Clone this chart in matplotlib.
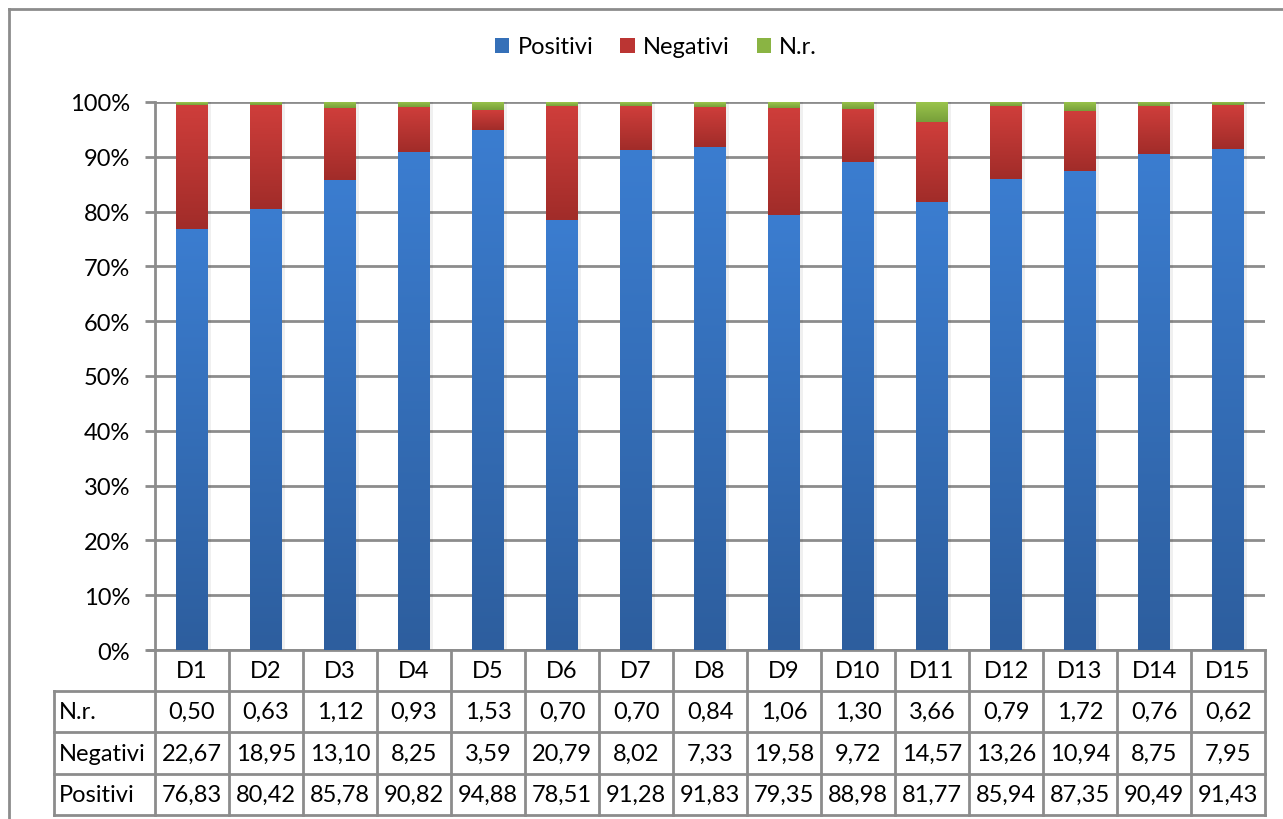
import numpy as np
import matplotlib
matplotlib.use("Agg")
import matplotlib.pyplot as plt
from matplotlib.colors import LinearSegmentedColormap
from matplotlib.patches import Patch
from matplotlib.lines import Line2D
import matplotlib.transforms as mtransforms

plt.rcParams['font.family'] = ['Lato', 'DejaVu Sans']

categories = ["D1", "D2", "D3", "D4", "D5", "D6", "D7", "D8", "D9", "D10",
              "D11", "D12", "D13", "D14", "D15"]
nr = [0.50, 0.63, 1.12, 0.93, 1.53, 0.70, 0.70, 0.84, 1.06, 1.30, 3.66, 0.79, 1.72, 0.76, 0.62]
negativi = [22.67, 18.95, 13.10, 8.25, 3.59, 20.79, 8.02, 7.33, 19.58, 9.72, 14.57, 13.26, 10.94, 8.75, 7.95]
positivi = [76.83, 80.42, 85.78, 90.82, 94.88, 78.51, 91.28, 91.83, 79.35, 88.98, 81.77, 85.94, 87.35, 90.49, 91.43]
series_names = ["Positivi", "Negativi", "N.r."]
table_rows = ["N.r.", "Negativi", "Positivi"]

# gradient (top, bottom) colours per series
grads = {
    "Positivi": ("#3b7dd0", "#2d5e9e"),
    "Negativi": ("#cf3e3b", "#a12c29"),
    "N.r.": ("#9cc64c", "#779f3a"),
}
legend_cols = {"Positivi": "#3570b8", "Negativi": "#bb3533", "N.r.": "#8ab443"}

W, H = 1283, 820
fig = plt.figure(figsize=(W / 100, H / 100), dpi=100)
L, R, T, B = 155, 1265, 103, 651
ax = fig.add_axes([L / W, 1 - B / H, (R - L) / W, (B - T) / H])

pos = np.array(positivi)
neg = np.array(negativi)
nrr = np.array(nr)
tot = pos + neg + nrr
vals = {"Positivi": pos / tot * 100, "Negativi": neg / tot * 100, "N.r.": nrr / tot * 100}

x = np.arange(len(categories))
bw = 0.43
bottom = np.zeros(len(categories))
grad = np.linspace(0, 1, 256).reshape(-1, 1)
for name in series_names:
    bars = ax.bar(x, vals[name], bw, bottom=bottom, color="none", zorder=3, linewidth=0)
    cmap = LinearSegmentedColormap.from_list(name, [grads[name][1], grads[name][0]])
    for b in bars:
        bx, by = b.get_x(), b.get_y()
        w, h = b.get_width(), b.get_height()
        # soft shadow
        ax.add_patch(plt.Rectangle((bx + w, by), 0.04, h, color="#000000", alpha=0.06,
                                   lw=0, zorder=2.5))
        ax.imshow(grad, extent=[bx, bx + w, by, by + h], origin="lower", aspect="auto",
                  cmap=cmap, zorder=3, interpolation="bilinear")
    bottom = bottom + vals[name]

fs = 17
ax.set_xlim(-0.5, len(categories) - 0.5)
ax.set_ylim(0, 100)
ax.set_yticks(np.arange(0, 101, 10))
ax.set_yticklabels([f"{v}%" for v in range(0, 101, 10)])
ax.set_xticks([])
gcol = "#8c8c8c"
ax.yaxis.grid(True, color=gcol, linewidth=2.0, zorder=1)
ax.set_axisbelow(True)
for s in ["top", "right"]:
    ax.spines[s].set_visible(False)
ax.spines["left"].set_color(gcol)
ax.spines["left"].set_linewidth(2.0)
ax.spines["bottom"].set_color(gcol)
ax.spines["bottom"].set_linewidth(2.0)
ax.tick_params(axis="y", length=7, width=2.0, color=gcol, labelsize=fs, pad=11, labelcolor="black")

# data table
trans = mtransforms.blended_transform_factory(ax.transData, ax.transAxes)
ph = B - T
ys = [0, -(691.7 - B) / ph, -(733.3 - B) / ph, -(775 - B) / ph, -(816 - B) / ph]
xl = -0.5 - (155 - 54) / ((R - L) / len(categories))
xr = len(categories) - 0.5
lw_t = 2.0
ax.add_line(Line2D([-0.5 - 7 / 74, -0.5], [0, 0], transform=trans, color=gcol, lw=lw_t, clip_on=False))
for i in range(len(categories) + 1):
    ax.add_line(Line2D([i - 0.5, i - 0.5], [ys[0], ys[-1]], transform=trans, color=gcol,
                       lw=lw_t, clip_on=False))
ax.add_line(Line2D([xl, xl], [ys[1], ys[-1]], transform=trans, color=gcol, lw=lw_t, clip_on=False))
for yy in ys[1:]:
    ax.add_line(Line2D([xl, xr], [yy, yy], transform=trans, color=gcol, lw=lw_t, clip_on=False))

for i, c in enumerate(categories):
    ax.text(i, (ys[0] + ys[1]) / 2, c, transform=trans, ha="center", va="center", fontsize=fs)
row_data = {"N.r.": nr, "Negativi": negativi, "Positivi": positivi}
for r, rname in enumerate(table_rows):
    yc = (ys[r + 1] + ys[r + 2]) / 2
    ax.text(xl + 0.07, yc, rname, transform=trans, ha="left", va="center", fontsize=fs)
    for i, v in enumerate(row_data[rname]):
        ax.text(i, yc, f"{v:.2f}".replace(".", ","), transform=trans, ha="center",
                va="center", fontsize=fs)

# legend
handles = [Patch(facecolor=legend_cols[n], edgecolor="none", label=n) for n in series_names]
fig.legend(handles=handles, loc="center", bbox_to_anchor=(656 / W, 1 - 48 / H), ncol=3,
           frameon=False, fontsize=fs, handlelength=0.6, handleheight=0.6,
           handletextpad=0.35, columnspacing=1.15)

# outer frame
fig.add_artist(Line2D([9 / W, 9 / W], [1 - 10 / H, -0.05], transform=fig.transFigure,
                      color=gcol, lw=2.0))
fig.add_artist(Line2D([9 / W, 1.05], [1 - 10 / H, 1 - 10 / H], transform=fig.transFigure,
                      color=gcol, lw=2.0))

fig.savefig("out.png", dpi=100)
